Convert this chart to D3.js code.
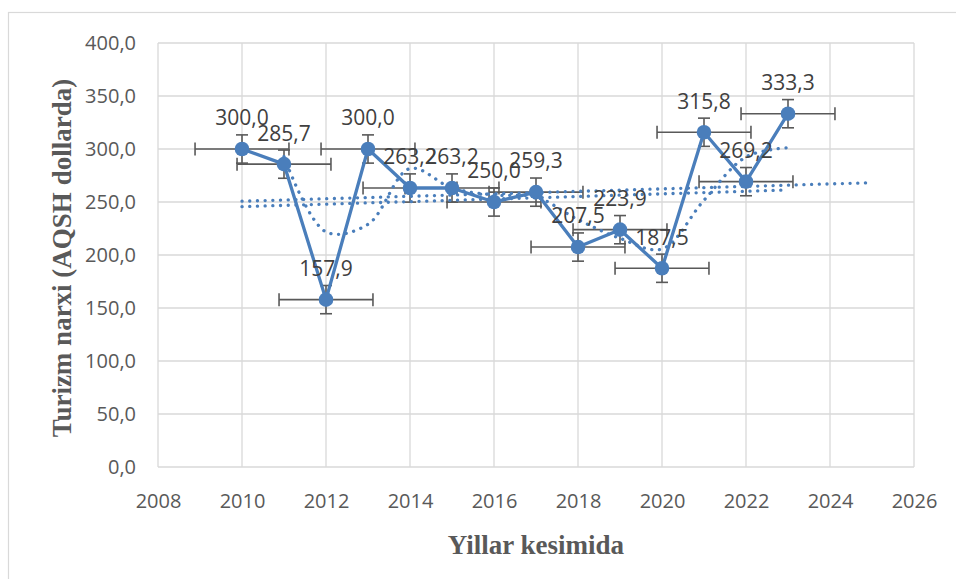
<!DOCTYPE html>
<html><head><meta charset="utf-8">
<script src="https://cdn.jsdelivr.net/npm/d3@7"></script>
<style>body{margin:0;background:#fff} svg{display:block}</style>
</head><body>
<svg id="c" width="956" height="579"></svg>
<script>
// ---- data ----
const years  = [2010,2011,2012,2013,2014,2015,2016,2017,2018,2019,2020,2021,2022,2023];
const prices = [300.0,285.7,157.9,300.0,263.2,263.2,250.0,259.3,207.5,223.9,187.5,315.8,269.2,333.3];
const xTicks = [2008,2010,2012,2014,2016,2018,2020,2022,2024,2026];
const yTicks = [0,50,100,150,200,250,300,350,400];
const xTitle = "Yillar kesimida";
const yTitle = "Turizm narxi (AQSH dollarda)";
const trendForward = 2;   // linear trendline forecast (years)
const maPeriod = 2;       // moving average period

// ---- setup ----
const svg = d3.select("#c");
const blue = "#4a7ebb", grid = "#d9d9d9", txt = "#595959";
const x = d3.scaleLinear().domain([2008,2026]).range([158,914]);
const y = d3.scaleLinear().domain([0,400]).range([467,43]);
const fmt = v => d3.format(".1f")(v).replace(".", ",");
const pts = years.map((yr,i)=>({x:yr,y:prices[i]}));

// chart border
svg.append("rect").attr("x",8.5).attr("y",12.5).attr("width",980).attr("height",600)
  .attr("fill","none").attr("stroke",grid).attr("stroke-width",1.2);

// gridlines
const g = svg.append("g");
g.selectAll(".vg").data(xTicks).join("line")
  .attr("x1",d=>x(d)).attr("x2",d=>x(d)).attr("y1",y(400)).attr("y2",y(0))
  .attr("stroke",grid).attr("stroke-width",1.3);
g.selectAll(".hg").data(yTicks).join("line")
  .attr("x1",x(2008)).attr("x2",x(2026)).attr("y1",d=>y(d)).attr("y2",d=>y(d))
  .attr("stroke",grid).attr("stroke-width",1.3);

// axes (labels only)
const xAxis = d3.axisBottom(x).tickValues(xTicks).tickFormat(d3.format("d")).tickSize(0).tickPadding(22);
const yAxis = d3.axisLeft(y).tickValues(yTicks).tickFormat(fmt).tickSize(0).tickPadding(22);
const gx = svg.append("g").attr("transform",`translate(0,${y(0)})`).call(xAxis);
const gy = svg.append("g").attr("transform",`translate(${x(2008)},0)`).call(yAxis);
[gx,gy].forEach(a=>{
  a.select(".domain").remove();
  a.selectAll("text").attr("fill",txt).style("font-family","'Open Sans', sans-serif").style("font-size","20px");
});
gx.selectAll("text").attr("dy","0.35em").attr("y",34);

// titles
svg.append("text").attr("x",(x(2008)+x(2026))/2).attr("y",554).attr("text-anchor","middle")
  .attr("fill",txt).style("font-family","'Liberation Serif','Times New Roman',serif")
  .style("font-weight","bold").style("font-size","27px").text(xTitle);
svg.append("text").attr("transform",`translate(71,${(y(0)+y(400))/2+3}) rotate(-90)`).attr("text-anchor","middle")
  .attr("fill",txt).style("font-family","'Liberation Serif','Times New Roman',serif")
  .style("font-weight","bold").style("font-size","27px").text(yTitle);

// ---- error bars (standard error, as Excel) ----
const n = years.length;
const seY = d3.deviation(prices)/Math.sqrt(n);
const seX = d3.deviation(years)/Math.sqrt(n);
const eb = svg.append("g").attr("stroke","#595959").attr("stroke-width",1.6).attr("fill","none");
pts.forEach(p=>{
  const cx=x(p.x), cy=y(p.y);
  const xl=x(p.x-seX), xr=x(p.x+seX), yt=y(p.y+seY), yb=y(p.y-seY);
  eb.append("line").attr("x1",xl).attr("x2",xr).attr("y1",cy).attr("y2",cy);
  eb.append("line").attr("x1",xl).attr("x2",xl).attr("y1",cy-6.5).attr("y2",cy+6.5);
  eb.append("line").attr("x1",xr).attr("x2",xr).attr("y1",cy-6.5).attr("y2",cy+6.5);
  eb.append("line").attr("x1",cx).attr("x2",cx).attr("y1",yt).attr("y2",yb);
  eb.append("line").attr("x1",cx-6).attr("x2",cx+6).attr("y1",yt).attr("y2",yt);
  eb.append("line").attr("x1",cx-6).attr("x2",cx+6).attr("y1",yb).attr("y2",yb);
});

// ---- trendlines ----
const mx = d3.mean(years), my = d3.mean(prices);
const slope = d3.sum(pts,p=>(p.x-mx)*(p.y-my))/d3.sum(pts,p=>(p.x-mx)**2);
const icpt = my - slope*mx;
const linPts = [years[0], years[n-1]+trendForward].map(v=>({x:v,y:icpt+slope*v}));

const lny = prices.map(Math.log), mly = d3.mean(lny);
const eb1 = d3.sum(years,(v,i)=>(v-mx)*(lny[i]-mly))/d3.sum(years,v=>(v-mx)**2);
const ea = mly - eb1*mx;
const expPts = d3.range(years[0], years[n-1]+0.001, 0.25).map(v=>({x:v,y:Math.exp(ea+eb1*v)}));

const maPts = pts.slice(maPeriod-1).map((p,i)=>({x:p.x,y:d3.mean(prices.slice(i,i+maPeriod))}));

const dotted = sel => sel.attr("fill","none").attr("stroke",blue).attr("stroke-width",3.3)
  .attr("stroke-linecap","round").attr("stroke-dasharray","0.1 7.6");
const lineStraight = d3.line().x(d=>x(d.x)).y(d=>y(d.y));
const lineSmooth = d3.line().x(d=>x(d.x)).y(d=>y(d.y)).curve(d3.curveCatmullRom.alpha(0.5));
svg.append("path").datum(linPts).attr("d",lineStraight).call(dotted);
svg.append("path").datum(expPts).attr("d",lineStraight).call(dotted);
svg.append("path").datum(maPts).attr("d",lineSmooth).call(dotted);

// ---- series ----
svg.append("path").datum(pts).attr("d",lineStraight).attr("fill","none")
  .attr("stroke",blue).attr("stroke-width",3.3).attr("stroke-linejoin","round");
svg.selectAll(".mk").data(pts).join("circle")
  .attr("cx",d=>x(d.x)).attr("cy",d=>y(d.y)).attr("r",7.3).attr("fill",blue);

// data labels
svg.selectAll(".lb").data(pts).join("text")
  .attr("x",d=>x(d.x)).attr("y",d=>y(d.y)-31).attr("dy","0.35em").attr("text-anchor","middle")
  .attr("fill","#404040").style("font-family","'Open Sans', sans-serif").style("font-size","21px")
  .text(d=>fmt(d.y));
</script>
</body></html>
